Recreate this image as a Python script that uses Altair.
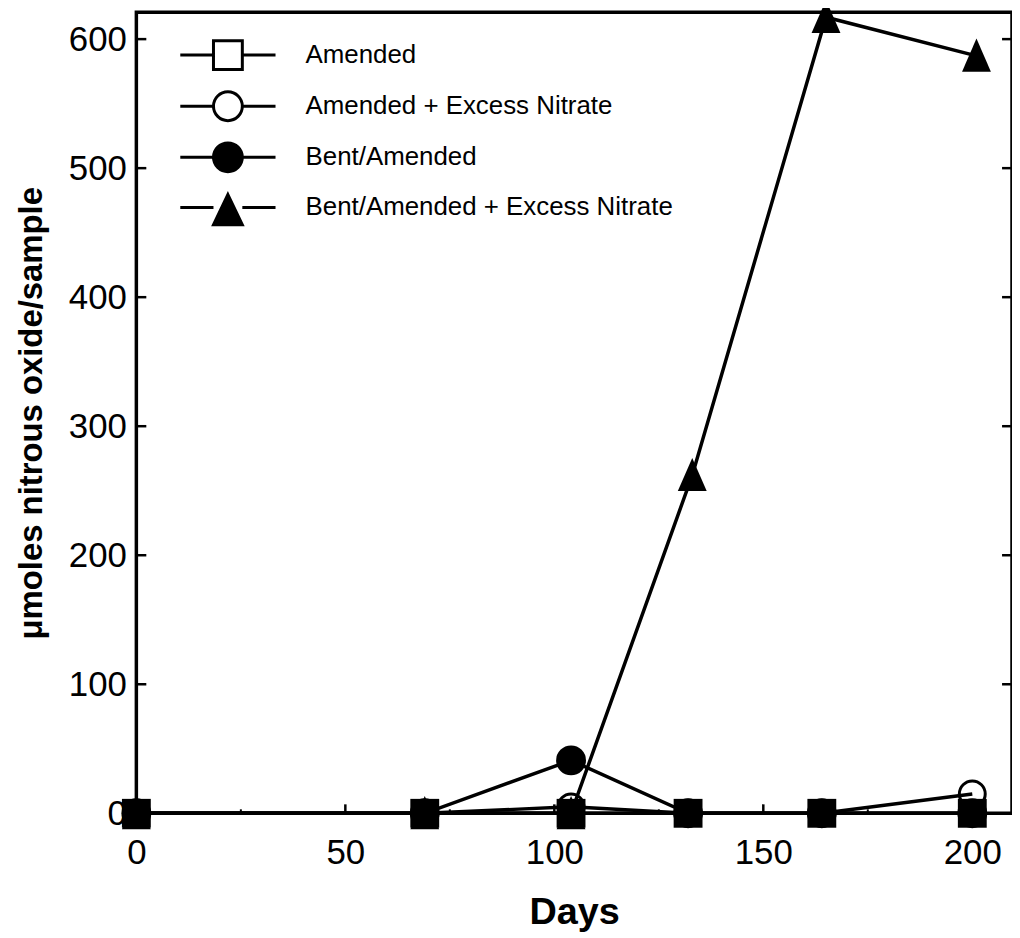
import altair as alt
import pandas as pd

# ---------------- data ----------------
series_names = [
    "Amended",
    "Amended + Excess Nitrate",
    "Bent/Amended",
    "Bent/Amended + Excess Nitrate",
]
days_amended = [0, 69, 104, 132, 164, 200]
vals_amended = [0, 0, 0, 0, 0, 0]
days_amended_nitrate = [0, 69, 104, 132, 164, 200]
vals_amended_nitrate = [0, 0, 5, 0, 0, 15]
days_bent = [0, 69, 104, 132, 164, 200]
vals_bent = [0, 0, 41, 0, 0, 0]
days_bent_nitrate = [0, 69, 104, 133, 165, 201]
vals_bent_nitrate = [0, 0, 0, 262, 617, 587]

y_tick_values = [0, 100, 200, 300, 400, 500, 600]
x_major_ticks = [0, 50, 100, 150, 200]
x_minor_ticks = [25, 75, 125, 175]

# ---------------- tables ----------------
rows = []
for name, ds, vs in [
    (series_names[0], days_amended, vals_amended),
    (series_names[1], days_amended_nitrate, vals_amended_nitrate),
    (series_names[2], days_bent, vals_bent),
    (series_names[3], days_bent_nitrate, vals_bent_nitrate),
]:
    for d, v in zip(ds, vs):
        rows.append({"day": d, "value": v, "series": name})
df = pd.DataFrame(rows)
df_ytick = pd.DataFrame({"value": y_tick_values})
df_xmajor = pd.DataFrame({"day": x_major_ticks})
df_xminor = pd.DataFrame({"day": x_minor_ticks})

W, H = 880, 805
FONT = "Liberation Sans"

x_scale = alt.Scale(domain=[0, 209.5], nice=False, zero=False)
y_scale = alt.Scale(domain=[0, 620.8], nice=False, zero=False)


def X(field="day"):
    return alt.X(
        f"{field}:Q",
        scale=x_scale,
        axis=alt.Axis(
            values=x_major_ticks, title="Days", labelPadding=22, titlePadding=24,
            labelFlush=False, labelOverlap=False, format="d",
        ),
    )


def Y(field="value"):
    return alt.Y(
        f"{field}:Q",
        scale=y_scale,
        axis=alt.Axis(
            values=y_tick_values, title="μmoles nitrous oxide/sample",
            labelPadding=10, titlePadding=20, labelFlush=False,
            labelOverlap=False, format="d",
        ),
    )


# legend symbols: marker with short line stubs on both sides
leg_square = "M-3.3,0L-1,0M1,0L3.3,0M-1,-1L1,-1L1,1L-1,1Z"
leg_circle = "M-3.3,0L-1,0M1,0L3.3,0M-1,0A1,1,0,1,1,1,0A1,1,0,1,1,-1,0Z"
leg_triangle = "M-3.3,0L-1,0M1,0L3.3,0M0,-0.9L1.0,1.2L-1.0,1.2Z"
plot_triangle = "M0,-1.2L1,1.1L-1,1.1Z"

legend = alt.Legend(
    orient="none", legendX=76, legendY=27, title=None,
    labelFont=FONT, labelFontSize=26, labelColor="black", labelOffset=62,
    rowPadding=9.4, padding=0, symbolSize=841, symbolStrokeWidth=3,
    symbolStrokeColor="black", labelLimit=0,
)

legend_layer = alt.Chart(df).transform_filter("false").mark_point(
    strokeWidth=3, opacity=1
).encode(
    x=X(), y=Y(),
    shape=alt.Shape(
        "series:N",
        scale=alt.Scale(domain=series_names,
                        range=[leg_square, leg_circle, leg_circle, leg_triangle]),
        legend=legend,
    ),
    fill=alt.Fill(
        "series:N",
        scale=alt.Scale(domain=series_names,
                        range=["white", "white", "black", "black"]),
        legend=legend,
    ),
    stroke=alt.Stroke(
        "series:N",
        scale=alt.Scale(domain=series_names,
                        range=["black", "black", "black", "black"]),
        legend=legend,
    ),
)

lines = alt.Chart(df).mark_line(color="black", strokeWidth=3.5).encode(
    x=X(), y=Y(), detail="series:N", order="day:Q"
)

squares = alt.Chart(df).transform_filter(
    alt.datum.series == series_names[0]
).mark_point(shape="square", filled=True, color="black", size=841, opacity=1).encode(
    x=X(), y=Y()
)
open_circles = alt.Chart(df).transform_filter(
    alt.datum.series == series_names[1]
).mark_point(shape="circle", filled=False, color="black", strokeWidth=3,
             size=676, opacity=1).encode(x=X(), y=Y())
filled_circles = alt.Chart(df).transform_filter(
    alt.datum.series == series_names[2]
).mark_point(shape="circle", filled=True, color="black", size=900,
             opacity=1).encode(x=X(), y=Y())
triangles = alt.Chart(df).transform_filter(
    alt.datum.series == series_names[3]
).mark_point(shape=plot_triangle, filled=True, color="black", size=841,
             opacity=1).encode(x=X(), y=Y())

tick_left = alt.Chart(df_ytick).mark_rule(color="black", strokeWidth=2.5).encode(
    y=Y(), x=alt.value(0), x2=alt.value(10)
)
tick_right = alt.Chart(df_ytick).mark_rule(color="black", strokeWidth=2.5).encode(
    y=Y(), x=alt.value(W - 10), x2=alt.value(W)
)
tick_major = alt.Chart(df_xmajor).mark_rule(color="black", strokeWidth=2.5).encode(
    x=X(), y=alt.value(H), y2=alt.value(H - 9)
)
tick_minor = alt.Chart(df_xminor).mark_rule(color="black", strokeWidth=2).encode(
    x=X(), y=alt.value(H), y2=alt.value(H - 4)
)

chart = alt.layer(
    legend_layer, tick_left, tick_right, tick_major, tick_minor,
    lines, squares, open_circles, filled_circles, triangles,
).properties(
    width=W, height=H,
    autosize=alt.AutoSizeParams(type="none"),
    padding={"left": 129, "top": 2, "right": 0, "bottom": 120},
    background="white",
).configure_view(
    stroke="black", strokeWidth=3.5
).configure_axis(
    labelFont=FONT, labelFontSize=35, labelColor="black",
    titleFont=FONT, titleFontSize=33, titleFontWeight="bold", titleColor="black",
    domain=False, ticks=False, tickSize=0, grid=False,
).configure_axisX(
    titleFontSize=38
)

chart.save("out.html", embed_options={"renderer": "svg", "actions": False})
